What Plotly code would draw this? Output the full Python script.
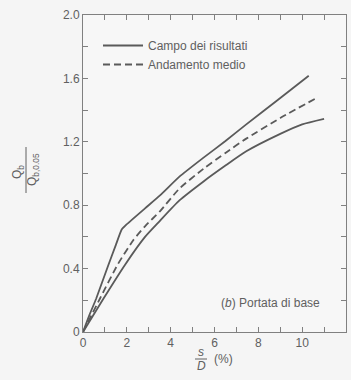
import plotly.graph_objects as go

# Data
upper_x = [0, 0.3, 0.6, 1.15, 1.5, 1.76, 2.0, 2.83, 3.5, 4.4, 5.5, 6.5, 7.45, 8.9, 10.3]
upper_y = [0, 0.11, 0.21, 0.42, 0.55, 0.645, 0.68, 0.78, 0.86, 0.98, 1.10, 1.205, 1.31, 1.465, 1.617]

mean_x = [0, 0.77, 1.6, 2.3, 2.83, 3.5, 4.4, 5.5, 6.5, 7.45, 9.0, 10.7]
mean_y = [0, 0.21, 0.43, 0.58, 0.667, 0.76, 0.905, 1.03, 1.13, 1.22, 1.35, 1.48]

lower_x = [0, 0.93, 1.92, 2.83, 3.5, 4.4, 5.5, 6.5, 7.45, 9.0, 10.0, 11.0]
lower_y = [0, 0.21, 0.425, 0.60, 0.70, 0.83, 0.95, 1.05, 1.14, 1.25, 1.31, 1.345]

x_ticks = [0, 2, 4, 6, 8, 10, 12]
y_ticks = [0, 0.4, 0.8, 1.2, 1.6, 2.0]
y_ticktext = ["0", "0.4", "0.8", "1.2", "1.6", "2.0"]

legend_names = ["Campo dei risultati", "Andamento medio"]

W, H = 351, 380
ML, MR, MT, MB = 83, 5, 15, 48
PW, PH = W - ML - MR, H - MT - MB

def px(xp, yp):
    return (xp - ML) / PW, (H - MB - yp) / PH

LINE = "#5a5a5a"
AX = "#808080"
TXT = "#606060"
FONT = "Liberation Sans"

fig = go.Figure()
fig.add_trace(go.Scatter(x=upper_x, y=upper_y, mode="lines", name=legend_names[0],
                         line=dict(color=LINE, width=1.8, shape="spline", smoothing=0.4)))
fig.add_trace(go.Scatter(x=mean_x, y=mean_y, mode="lines", name=legend_names[1],
                         line=dict(color=LINE, width=1.8, dash="7px,4px", shape="spline", smoothing=0.6)))
fig.add_trace(go.Scatter(x=lower_x, y=lower_y, mode="lines", showlegend=False,
                         line=dict(color=LINE, width=1.8, shape="spline", smoothing=0.6)))

axis_common = dict(showgrid=False, zeroline=False, showline=True, linecolor=AX, linewidth=1,
                   mirror="ticks", ticks="inside", ticklen=5, tickcolor=AX, tickwidth=1,
                   tickfont=dict(family=FONT, size=12, color=TXT))

fig.update_xaxes(range=[0, 12], tickvals=x_ticks,
                 minor=dict(dtick=1, ticks="inside", ticklen=5, tickcolor=AX), **axis_common)
fig.update_yaxes(range=[0, 2], tickvals=y_ticks, ticktext=y_ticktext,
                 minor=dict(dtick=0.2, ticks="inside", ticklen=5, tickcolor=AX), **axis_common)

lx, ly = px(98, 31)
fig.update_layout(
    width=W, height=H,
    margin=dict(l=ML, r=MR, t=MT, b=MB),
    paper_bgcolor="#f5f5f5", plot_bgcolor="#f7f7f7",
    font=dict(family=FONT, size=12, color=TXT),
    showlegend=True,
    legend=dict(x=lx, y=ly, xanchor="left", yanchor="top", bgcolor="rgba(0,0,0,0)",
                itemwidth=40,
                font=dict(family=FONT, size=12, color=TXT), tracegroupgap=0),
)

def ann(xp, yp, text, angle=0, xanchor="center"):
    x, y = px(xp, yp)
    return dict(x=x, y=y, xref="paper", yref="paper", xanchor=xanchor, yanchor="middle",
                text=text, textangle=angle, showarrow=False,
                font=dict(family=FONT, size=12, color=TXT))

anns = [
    ann(322, 303, "(<i>b</i>) Portata di base", xanchor="right"),
    ann(18, 172, "Q<sub>b</sub>", angle=-90),
    ann(33, 170, "Q<sub>b,0.05</sub>", angle=-90),
    ann(201, 352, "<i>s</i>"),
    ann(201, 366, "<i>D</i>"),
    ann(223, 359, "(%)"),
]
fig.update_layout(annotations=anns)

b1x, b1y = px(26, 147)
b2x, b2y = px(26, 193)
c1x, c1y = px(195, 359)
c2x, c2y = px(207, 359)
fig.update_layout(shapes=[
    dict(type="line", xref="paper", yref="paper", x0=b1x, y0=b1y, x1=b2x, y1=b2y,
         line=dict(color=TXT, width=1)),
    dict(type="line", xref="paper", yref="paper", x0=c1x, y0=c1y, x1=c2x, y1=c2y,
         line=dict(color=TXT, width=1)),
])

fig.write_html("out.html")
